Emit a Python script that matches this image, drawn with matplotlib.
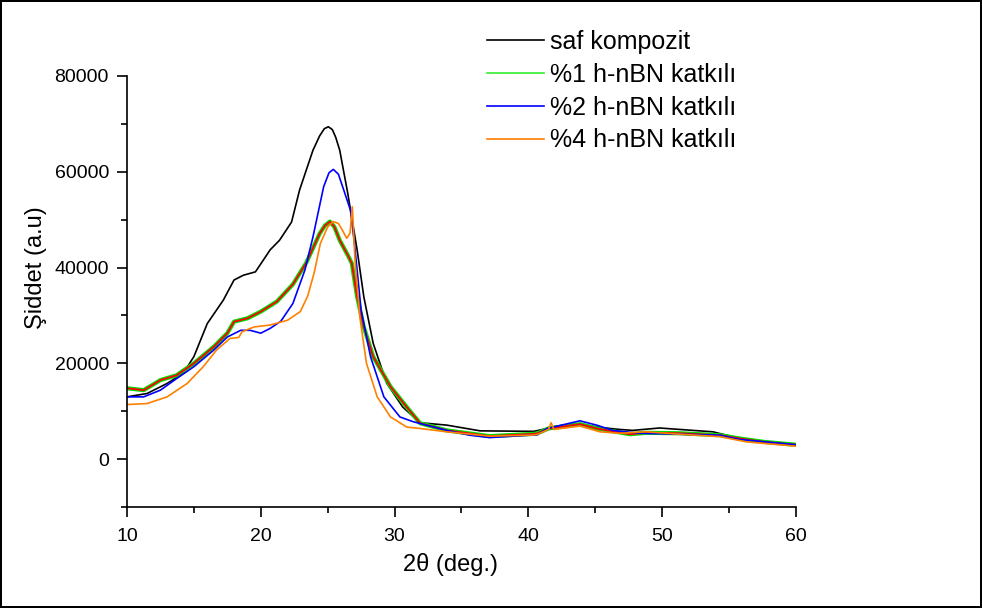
import matplotlib
matplotlib.use("Agg")
import matplotlib.pyplot as plt
from matplotlib.ticker import MultipleLocator

plt.rcParams['font.family'] = ['Liberation Sans', 'DejaVu Sans']

# --- veri ---
x_saf = [10, 11.5, 13, 14.2, 15, 16, 17.2, 18, 18.7, 19.6, 20.2, 20.7, 21.4, 22.3, 22.9, 23.9,
         24.4, 24.75, 25.05, 25.35, 25.6, 25.9, 26.5, 27.2, 27.7, 28.4, 29.4, 30.6, 31.9, 33.9,
         36.4, 40.4, 41.4, 42.1, 43.85, 45.1, 46.8, 47.8, 49.8, 51.3, 53.8, 54.8, 55.8, 57.6, 60]
y_saf = [13000, 13700, 15800, 17900, 21400, 28300, 33200, 37400, 38400, 39100, 41600, 43700,
         45700, 49500, 56200, 64500, 67500, 69000, 69400, 68800, 67200, 64500, 55500, 43700,
         33900, 24200, 15900, 10900, 7600, 7100, 5900, 5800, 6400, 6900, 7400, 6700, 6200, 6000,
         6500, 6200, 5700, 5000, 4300, 3600, 3000]

x_1 = [10, 11.25, 12.5, 13.7, 15, 16.5, 17.5, 18, 19, 20, 21.2, 22.4, 23.4, 24.4, 24.8, 25.17,
       25.5, 25.9, 26.5, 26.8, 27.2, 27.7, 28.4, 29.7, 30.9, 31.9, 33.9, 37.1, 40.6, 41.5, 43.85,
       45.1, 47.6, 48.8, 51.3, 54.3, 55.8, 57.6, 60]
y_1 = [14800, 14400, 16500, 17500, 20000, 23500, 26300, 28700, 29400, 30800, 32900, 36500,
       41000, 47100, 48800, 49600, 48500, 45700, 42600, 40900, 33900, 27600, 21400, 15100,
       10900, 7500, 6000, 4800, 5300, 6400, 7300, 6400, 5200, 5500, 5400, 5000, 4300, 3600,
       3000]

x_2 = [10, 11.25, 12.5, 13.7, 15, 16.5, 17.5, 18.5, 19.2, 20, 20.7, 21.5, 22.4, 23.3, 23.9,
       24.7, 25.1, 25.42, 25.8, 26.2, 26.7, 27.0, 27.5, 28.2, 29.2, 30.4, 31.4, 33.9, 35.6, 37.1,
       40.1, 40.6, 41.4, 43.85, 45.1, 46.3, 48.3, 51.3, 54.3, 55.8, 60]
y_2 = [13000, 13000, 14400, 16800, 19300, 22800, 25500, 26900, 26900, 26300, 27300, 28800,
       32500, 39500, 46400, 56900, 59800, 60500, 59500, 56200, 52000, 45000, 31100, 21400,
       13000, 8800, 7800, 6000, 5000, 4500, 5000, 5000, 6400, 8000, 7100, 6000, 5400, 5200,
       5000, 4100, 3000]

x_4 = [10, 11.5, 13, 14.5, 15.7, 16.7, 17.7, 18.35, 18.6, 19.5, 20.7, 22, 22.95, 23.5, 24, 24.45,
       25, 25.42, 25.8, 26.1, 26.42, 26.67, 26.84, 27.04, 27.4, 27.9, 28.7, 29.7, 30.9, 31.9,
       33.9, 37.1, 40.1, 40.6, 41.5, 41.7, 41.9, 43.85, 45.35, 46.8, 48.8, 51.3, 54.3, 56.3, 60]
y_4 = [11400, 11600, 13000, 15800, 19300, 22800, 25200, 25400, 26600, 27600, 28000, 29000, 30800,
       34000, 39000, 45000, 48500, 49600, 49200, 47800, 46100, 47200, 52700, 41600, 29700, 20000,
       13000, 8800, 6700, 6400, 5700, 4800, 5000, 5100, 6200, 7600, 6200, 6900, 5700, 5400, 5700,
       5200, 4700, 3600, 2700]

etiketler = ["saf kompozit", "%1 h-nBN katkılı", "%2 h-nBN katkılı", "%4 h-nBN katkılı"]

fig = plt.figure(figsize=(9.82, 6.08), dpi=100)
fig.patch.set_edgecolor('black')
fig.patch.set_linewidth(1.5)
ax = fig.add_axes([0.1293, 0.1661, 0.6813, 0.7089])

l0, = ax.plot(x_saf, y_saf, color='black', lw=1.2)
l1, = ax.plot(x_1, y_1, color='#00dd00', lw=3.0)
ax.plot(x_1, y_1, color='red', lw=1.3)
l2, = ax.plot(x_2, y_2, color='#0000ff', lw=1.2)
l4, = ax.plot(x_4, y_4, color='#ff8000', lw=1.2)

ax.set_xlim(10, 60)
ax.set_ylim(-10000, 80000)
ax.xaxis.set_major_locator(MultipleLocator(10))
ax.xaxis.set_minor_locator(MultipleLocator(5))
ax.yaxis.set_major_locator(MultipleLocator(20000))
ax.yaxis.set_minor_locator(MultipleLocator(10000))
ax.tick_params(which='major', direction='out', length=7, width=1.2, labelsize=14)
ax.tick_params(axis='y', which='major', pad=6)
ax.tick_params(axis='x', which='major', pad=8)
ax.tick_params(which='minor', direction='out', length=4, width=1.2)
for s in ['top', 'right']:
    ax.spines[s].set_visible(False)
for s in ['left', 'bottom']:
    ax.spines[s].set_linewidth(1.2)

ax.set_xlabel("2θ (deg.)", fontsize=17)
ax.set_ylabel("Şiddet (a.u)", fontsize=17)
ax.xaxis.set_label_coords(0.483, -0.107)
ax.yaxis.set_label_coords(-0.119, 0.555)

leg_l1 = plt.Line2D([], [], color='#33ee33', lw=1.2)
fig.legend([l0, leg_l1, l2, l4], etiketler, loc='upper left', bbox_to_anchor=(0.4853, 0.967),
           frameon=False, fontsize=18, handlelength=2.3, labelspacing=0.35, handletextpad=0.25,
           borderaxespad=0)

fig.savefig("out.png", dpi=100)
